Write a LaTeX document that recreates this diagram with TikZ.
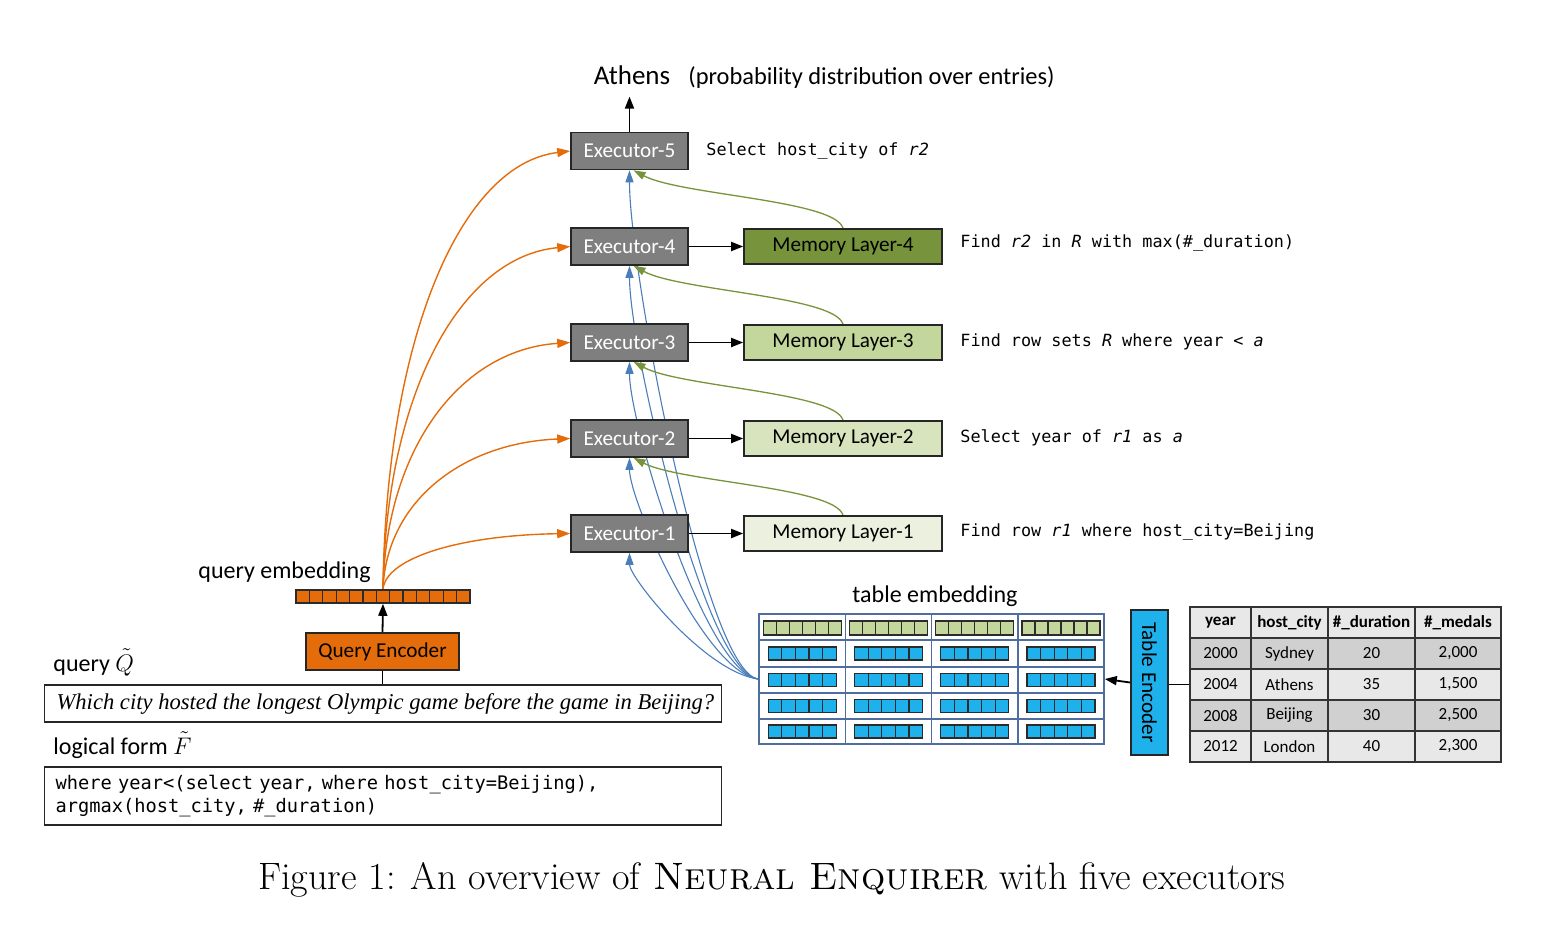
\documentclass[tikz,border=0pt]{standalone}
\usepackage{fontspec}
\usepackage{graphicx}
\usetikzlibrary{arrows.meta}
\newfontfamily\carl{Carlito}
\newfontfamily\dmono{DejaVu Sans Mono}
\newfontfamily\tms{Liberation Serif}
\newcommand\fBox{\carl\fontsize{10.6}{12}\selectfont}
\newcommand\fLbl{\carl\fontsize{12}{14}\selectfont}
\newcommand\fOp{\dmono\fontsize{8.4}{10}\selectfont}
\newcommand\fLf{\dmono\fontsize{9.35}{11.5}\selectfont}
\newcommand\fTab{\carl\fontsize{8.5}{10}\selectfont}
\definecolor{execgray}{HTML}{7F7F7F}
\definecolor{boxline}{HTML}{262626}
\definecolor{mfour}{HTML}{77933C}
\definecolor{mthree}{HTML}{C3D69B}
\definecolor{mtwo}{HTML}{D7E4BD}
\definecolor{mone}{HTML}{EBF1DE}
\definecolor{qorange}{HTML}{E46C0A}
\definecolor{arrorange}{HTML}{E46C0A}
\definecolor{arrblue}{HTML}{4A7EBB}
\definecolor{arrgreen}{HTML}{77933C}
\definecolor{tegrid}{HTML}{4F6D9E}
\definecolor{embblue}{HTML}{1FB1EB}
\definecolor{embgreen}{HTML}{C3D69B}
\definecolor{darkcell}{HTML}{2B2B2B}
\definecolor{tablight}{HTML}{E8E8E8}
\definecolor{tabdark}{HTML}{D0D0D0}
\definecolor{tabline}{HTML}{333333}
\pgfdeclarelayer{bg}
\pgfsetlayers{bg,main}
\begin{document}
\begin{tikzpicture}[x=0.5pt,y=-0.5pt,
  every node/.style={inner sep=0pt},
  exec/.style={draw=boxline, fill=execgray, line width=0.8pt, minimum width=58.5pt, minimum height=18.5pt, text=white, font=\fBox},
  mem/.style={draw=boxline, line width=0.8pt, minimum width=99pt, minimum height=17.5pt, font=\fBox},
  lbl/.style={font=\fLbl, anchor=west, text height=8.5pt, text depth=2.5pt},
  op/.style={font=\fOp, anchor=west, text height=6.5pt, text depth=2pt},
  blk/.style={-{Triangle[length=6pt,width=4.5pt]}, line width=0.9pt},
  orgarr/.style={arrorange, line width=0.7pt, -{Triangle[length=6.5pt,width=4.5pt]}},
  bluearr/.style={arrblue, line width=0.55pt, -{Triangle[length=6pt,width=4pt]}},
  greenarr/.style={arrgreen, line width=0.65pt, -{Triangle[length=6pt,width=4pt]}},
  tc/.style={draw=tabline, line width=0.9pt, minimum height=15.5pt, font=\fTab},
  tcl/.style={tc, fill=tablight},
  tcd/.style={tc, fill=tabdark},
  hd/.style={tc, fill=tablight, font=\fTab\bfseries},
  cellline/.style={draw=darkcell, line width=0.6pt}
]
\useasboundingbox (0,0) rectangle (1564,932);

% top output
\node[font=\carl\fontsize{13.5}{15}\selectfont, inner sep=1pt, anchor=base] (athens) at (632,84) {Athens};
\node[font=\carl\fontsize{12.2}{14}\selectfont, anchor=base west] (prob) at (688,84) {(probability distribution over entries)};

% executors
\node[exec] (e5) at (629.5,151) {Executor-5};
\node[exec] (e4) at (629.5,246.5) {Executor-4};
\node[exec] (e3) at (629.5,342.5) {Executor-3};
\node[exec] (e2) at (629.5,438.5) {Executor-2};
\node[exec] (e1) at (629.5,533.5) {Executor-1};

% memory layers
\node[mem, fill=mfour] (m4) at (843,246.5) {Memory Layer-4};
\node[mem, fill=mthree] (m3) at (843,342.5) {Memory Layer-3};
\node[mem, fill=mtwo] (m2) at (843,438.5) {Memory Layer-2};
\node[mem, fill=mone] (m1) at (843,533.5) {Memory Layer-1};

% operation texts
\node[op] (o5) at (706,151) {Select host\_city of \textit{r2}};
\node[op] (o4) at (960,243) {Find \textit{r2} in \textit{R} with max(\#\_duration)};
\node[op] (o3) at (960,342) {Find row sets \textit{R} where year < \textit{a}};
\node[op] (o2) at (960,438) {Select year of \textit{r1} as \textit{a}};
\node[op] (o1) at (960,532) {Find row \textit{r1} where host\_city=Beijing};

% query side
\node[lbl] (qelbl) at (198,572) {query embedding};
\node[draw=darkcell, fill=qorange, line width=0.8pt, minimum width=87pt, minimum height=6.5pt] (qe) at (383,596.5) {};
\foreach \i in {1,...,12} \draw[cellline] ({296+\i*174/13},590) -- ++(0,13);
\node[draw=boxline, fill=qorange, line width=0.8pt, minimum width=76.5pt, minimum height=18.5pt, font=\fBox] (qenc) at (382.5,651.5) {Query Encoder};
\node[lbl] (qlbl) at (53,665) {query $\tilde{Q}$};
\node[draw=boxline, line width=0.6pt, minimum height=18.5pt, inner xsep=6pt, anchor=west] (qbox) at (44,703.5)
  {\makebox[326.5pt][l]{\tms\itshape\fontsize{11.3}{13}\selectfont Which city hosted the longest Olympic game before the game in Beijing?}};
\node[lbl] (lflbl) at (53,748) {logical form $\tilde{F}$};
\node[draw=boxline, line width=0.6pt, minimum height=29pt, inner xsep=5.5pt, text width=327.5pt, align=left, font=\fLf, anchor=west] (lfbox) at (44,796)
  {where year<(select year, where host\_city=Beijing),\\argmax(host\_city, \#\_duration)};

% table embedding
\node[font=\fLbl] (telbl) at (935,596) {table embedding};
\node[draw=tegrid, line width=0.8pt, minimum width=172.5pt, minimum height=65pt] (te) at (931.5,679) {};
\foreach \x in {845.5,931.5,1018} \draw[tegrid, line width=0.8pt] (\x,614) -- (\x,744);
\foreach \y in {640,667,693,719} \draw[tegrid, line width=0.8pt] (759,\y) -- (1104,\y);
\foreach \cx in {802.25,888.5,974.75,1061} {
  \foreach \i in {0,...,5} \draw[cellline, fill=embgreen] ({\cx-39+\i*13},621) rectangle ++(13,14);
  \foreach \cy in {647,673.5,699.5,725}
    \foreach \i in {0,...,4} \draw[cellline, fill=embblue] ({\cx-34+\i*13.6},\cy) rectangle ++(13.6,13);
}

% table encoder
\node[draw=boxline, fill=embblue, line width=0.8pt, minimum width=18.5pt, minimum height=72.5pt, font=\fBox] (tenc) at (1149.5,682.5) {\rotatebox{-90}{Table Encoder}};

% table
\node[hd, minimum width=30.5pt] (t01) at (1220.5,622.5) {year};
\node[hd, minimum width=38.5pt] (t02) at (1289.5,622.5) {host\_city};
\node[hd, minimum width=43.5pt] (t03) at (1371.5,622.5) {\#\_duration};
\node[hd, minimum width=43pt] (t04) at (1458,622.5) {\#\_medals};
\node[tcd, minimum width=30.5pt] (t11) at (1220.5,653.5) {2000};
\node[tcd, minimum width=38.5pt] (t12) at (1289.5,653.5) {Sydney};
\node[tcd, minimum width=43.5pt] (t13) at (1371.5,653.5) {20};
\node[tcd, minimum width=43pt] (t14) at (1458,653.5) {2,000};
\node[tcl, minimum width=30.5pt] (t21) at (1220.5,684.5) {2004};
\node[tcl, minimum width=38.5pt] (t22) at (1289.5,684.5) {Athens};
\node[tcl, minimum width=43.5pt] (t23) at (1371.5,684.5) {35};
\node[tcl, minimum width=43pt] (t24) at (1458,684.5) {1,500};
\node[tcd, minimum width=30.5pt] (t31) at (1220.5,715.5) {2008};
\node[tcd, minimum width=38.5pt] (t32) at (1289.5,715.5) {Beijing};
\node[tcd, minimum width=43.5pt] (t33) at (1371.5,715.5) {30};
\node[tcd, minimum width=43pt] (t34) at (1458,715.5) {2,500};
\node[tcl, minimum width=30.5pt] (t41) at (1220.5,746.5) {2012};
\node[tcl, minimum width=38.5pt] (t42) at (1289.5,746.5) {London};
\node[tcl, minimum width=43.5pt] (t43) at (1371.5,746.5) {40};
\node[tcl, minimum width=43pt] (t44) at (1458,746.5) {2,300};

% caption
\node[font=\fontsize{19.1}{22}\selectfont] (cap) at (772,880) {Figure 1: An overview of \textsc{Neural Enquirer} with five executors};

% black connectors
\draw[blk] (e5.north) -- ([yshift=-5pt]e5.north |- athens.south);
\draw[blk] (e4.east) -- (m4.west);
\draw[blk] (e3.east) -- (m3.west);
\draw[blk] (e2.east) -- (m2.west);
\draw[blk] (e1.east) -- (m1.west);
\draw[blk] (qenc.north) -- (qe.south);
\draw[line width=0.9pt] (qbox.north -| qenc.south) -- (qenc.south);
\draw[blk] (tenc.west) -- (te.east);
\draw[line width=0.9pt] (t21.west) -- (t21.west -| tenc.east);

\begin{pgfonlayer}{bg}
% blue: table embedding to executors
\draw[bluearr] (te.west) .. controls (705,672) and (629.5,577.4) .. (e1.south);
\draw[bluearr] (te.west) .. controls (705,672) and (629.5,501.4) .. (e2.south);
\draw[bluearr] (te.west) .. controls (705,672) and (629.5,424.6) .. (e3.south);
\draw[bluearr] (te.west) .. controls (705,672) and (629.5,348.2) .. (e4.south);
\draw[bluearr] (te.west) .. controls (705,672) and (629.5,271.4) .. (e5.south);
% green: memory layer to next executor
\draw[greenarr] (m1.north) .. controls (835,487) and (680,482) .. ([xshift=2pt]e2.south);
\draw[greenarr] (m2.north) .. controls (835,392) and (680,387) .. ([xshift=2pt]e3.south);
\draw[greenarr] (m3.north) .. controls (835,296) and (680,291) .. ([xshift=2pt]e4.south);
\draw[greenarr] (m4.north) .. controls (835,200) and (680,195) .. ([xshift=2pt]e5.south);
% orange: query embedding to executors
\draw[orgarr] (qe.north) .. controls (386,557.8) and (460,535.2) .. (e1.west);
\draw[orgarr] (qe.north) .. controls (386,503.6) and (460,443) .. (e2.west);
\draw[orgarr] (qe.north) .. controls (386,448.9) and (460,349.9) .. (e3.west);
\draw[orgarr] (qe.north) .. controls (386,394.2) and (460,256.8) .. (e4.west);
\draw[orgarr] (qe.north) .. controls (386,339.8) and (460,164.2) .. (e5.west);
\end{pgfonlayer}
\end{tikzpicture}
\end{document}
